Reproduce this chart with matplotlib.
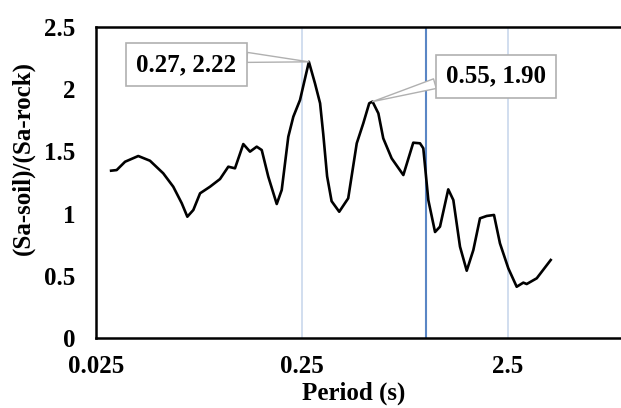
import matplotlib
matplotlib.use("Agg")
import matplotlib.pyplot as plt

# Period (s) and spectral ratio
period = [0.0296, 0.0315, 0.0346, 0.0401, 0.0457, 0.0530, 0.0593, 0.0652,
          0.0694, 0.0742, 0.0800, 0.0894, 0.100, 0.1097, 0.1182, 0.1297,
          0.1398, 0.1507, 0.1594, 0.1715, 0.1885, 0.1993, 0.2145, 0.2269,
          0.2445, 0.27, 0.289, 0.306, 0.317, 0.331, 0.348, 0.379, 0.419,
          0.461, 0.496, 0.530, 0.55, 0.587, 0.620, 0.681, 0.776, 0.867,
          0.935, 0.970, 1.026, 1.106, 1.169, 1.282, 1.357, 1.462, 1.576,
          1.697, 1.828, 1.971, 2.138, 2.285, 2.509, 2.755, 2.967, 3.082,
          3.447, 4.03]
ratio = [1.345, 1.350, 1.417, 1.463, 1.425, 1.324, 1.216, 1.083,
         0.975, 1.029, 1.163, 1.216, 1.278, 1.377, 1.364, 1.559,
         1.498, 1.538, 1.511, 1.297, 1.077, 1.190, 1.618, 1.779,
         1.913, 2.22, 2.047, 1.887, 1.640, 1.300, 1.100, 1.015, 1.123,
         1.565, 1.726, 1.887, 1.90, 1.806, 1.605, 1.444, 1.310, 1.570,
         1.565, 1.525, 1.109, 0.852, 0.895, 1.195, 1.109, 0.734, 0.541,
         0.707, 0.962, 0.981, 0.989, 0.761, 0.560, 0.412, 0.445, 0.434,
         0.480, 0.627]

# annotated peaks (index into the series)
peaks = [25, 36]
peak_box_px = [(186.5, 343.3), (495.5, 332.0)]   # box centres, figure pixels
peak_relpos = [(1.0, 0.85), (0.0, 0.3)]

xticks = [0.025, 0.25, 2.5]
xticklabels = ['0.025', '0.25', '2.5']
yticks = [0, 0.5, 1, 1.5, 2, 2.5]
yticklabels = ['0', '0.5', '1', '1.5', '2', '2.5']

font = {'family': 'Liberation Serif', 'weight': 'bold', 'size': 18}

fig = plt.figure(figsize=(6.21, 4.08), dpi=100)
# plot area runs past the right edge of the picture, as in the reference
ax = fig.add_axes([96/621, 70/408, 618/621, 311/408])

ax.set_xscale('log')
ax.set_xlim(0.025, 25)
ax.set_ylim(0, 2.5)

for xv in xticks[1:]:
    ax.axvline(xv, color='#c9d8ec', lw=1.2, zorder=1)
ax.axvline(1.0, color='#5a86c5', lw=1.5, zorder=1)

ax.plot(period, ratio, color='black', lw=1.9, zorder=3,
        solid_joinstyle='round')

ax.set_xticks(xticks)
ax.set_xticklabels(xticklabels, fontdict=font)
ax.minorticks_off()
ax.set_yticks(yticks)
ax.set_yticklabels(yticklabels, fontdict=font)
ax.tick_params(axis='x', length=0, pad=12)
ax.tick_params(axis='y', length=0, pad=15)

for sp in ax.spines.values():
    sp.set_linewidth(1.8)
    sp.set_color('black')

for i, (bx, by), rp in zip(peaks, peak_box_px, peak_relpos):
    ax.annotate(f"{period[i]:.2f}, {ratio[i]:.2f}",
                xy=(period[i], ratio[i]), xycoords='data',
                xytext=(bx, by), textcoords='figure pixels',
                ha='center', va='center', zorder=5, **font,
                bbox=dict(boxstyle='square,pad=0.4', fc='white',
                          ec='#b0b0b0', lw=1.2),
                arrowprops=dict(arrowstyle='wedge,tail_width=0.4',
                                fc='white', ec='#b0b0b0', lw=1.0,
                                relpos=rp, shrinkA=0, shrinkB=0))

fig.text(354/621, 1 - 393/408, 'Period (s)', ha='center', va='center',
         fontdict=font)
fig.text(23/621, 1 - 158/408, '(Sa-soil)/(Sa-rock)', ha='center',
         va='center', rotation=90, fontdict=font)

fig.savefig('out.png', dpi=100)
